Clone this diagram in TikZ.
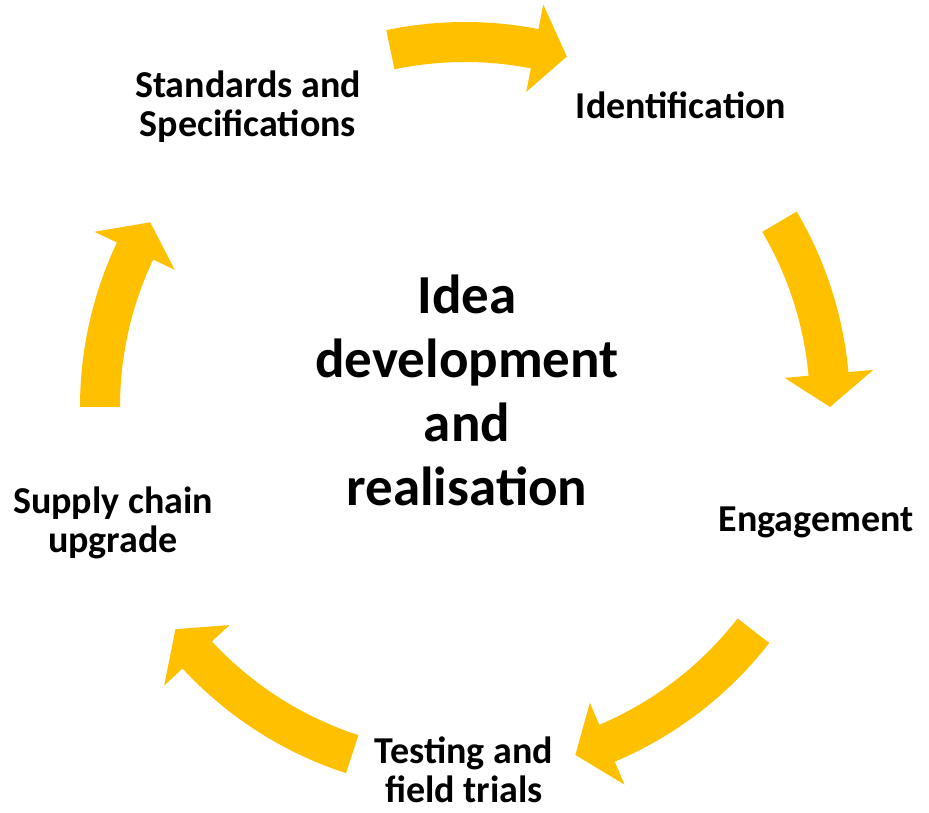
\documentclass[tikz,border=0pt]{standalone}
\usepackage{fontspec}
\setmainfont{Carlito}
\usetikzlibrary{calc}
\definecolor{arrowgold}{RGB}{255,192,0}
\newcommand{\cyclearrow}[3]{%
  \fill[arrowgold] ($(C)+(#1:385pt)$) arc[start angle=#1, end angle=#2, radius=385pt]
    -- ($(C)+(#2:410pt)$) -- ($(C)+(#3:365pt)$) -- ($(C)+(#2:321pt)$)
    -- ($(C)+(#2:345pt)$) arc[start angle=#2, end angle=#1, radius=345pt] -- cycle;}
\tikzset{
  label/.style={inner sep=0pt, align=center, font=\fontsize{38}{39}\selectfont\bfseries},
  centre/.style={inner sep=0pt, align=center, font=\fontsize{55}{64}\selectfont\bfseries}
}
\begin{document}
\begin{tikzpicture}[x=1pt,y=1pt]
\useasboundingbox (0,0) rectangle (929,812);
\coordinate (C) at (465,405);
\cyclearrow{101.8}{79}{73.8}
\cyclearrow{30.5}{5.2}{0}
\cyclearrow{-37.8}{-67.1}{-72.4}
\cyclearrow{-108}{-137.2}{-142.5}
\cyclearrow{180}{154.7}{149.6}
\node[label, anchor=base] (ident) at (681,693) {Identification};
\node[label, anchor=base] (stand) at (248,675) {Standards and\\Specifications};
\node[label, anchor=base] (engage) at (816,280) {Engagement};
\node[label, anchor=base] (supply) at (113,259) {Supply chain\\upgrade};
\node[label, anchor=base] (test) at (464,10) {Testing and\\field trials};
\node[centre, anchor=base] (idea) at (467,306) {Idea\\development\\and\\realisation};
\end{tikzpicture}
\end{document}
